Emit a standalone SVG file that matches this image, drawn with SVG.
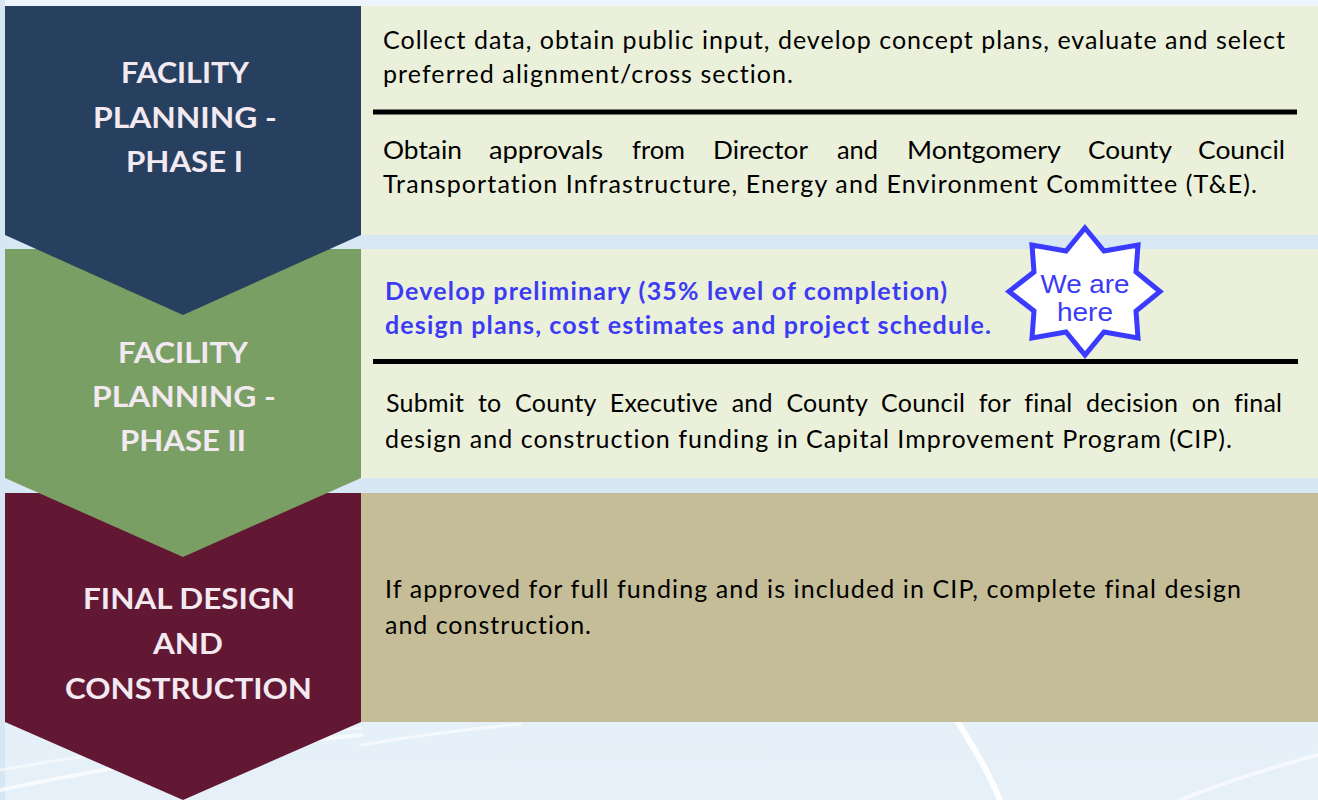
<svg xmlns="http://www.w3.org/2000/svg" width="1318" height="800" viewBox="0 0 1318 800">
  <defs>
    <linearGradient id="bg" x1="0" y1="0" x2="0" y2="1">
      <stop offset="0" stop-color="#EEF4FB"/>
      <stop offset="0.5" stop-color="#E2EDF7"/>
      <stop offset="1" stop-color="#E6F0F9"/>
    </linearGradient>
    <style>
      text { font-variant-ligatures: none; }
      .title { font-family: Lato, "Liberation Sans", sans-serif; font-weight: 700; font-size: 29px; fill: #F3E9F1; text-anchor: middle; }
      .body { font-family: Lato, "Liberation Sans", sans-serif; font-size: 25px; fill: #000000; }
      .blue { font-family: Lato, "Liberation Sans", sans-serif; font-weight: 700; font-size: 25px; fill: #3B3BF5; }
      .star { font-family: "Liberation Sans", Arial, sans-serif; font-size: 26px; fill: #3B3BF5; text-anchor: middle; }
      .rule { stroke: #000000; stroke-width: 5; }
      .panel-light { fill: #EBF0DA; }
      .panel-tan { fill: #C4BD97; }
      .curve { fill: none; stroke: #FFFFFF; stroke-linecap: round; }
    </style>
  </defs>

  <!-- background -->
  <g id="background">
    <rect x="0" y="0" width="1318" height="800" fill="url(#bg)"/>
    <rect x="0" y="235" width="1318" height="14" fill="#D3E5F3" opacity="0.8"/>
    <rect x="0" y="478" width="1318" height="15" fill="#D3E5F3" opacity="0.8"/>
    <rect x="0" y="0" width="5" height="800" fill="#D6E6F3"/>
    <path class="curve" d="M958 722 C 975 750, 990 775, 1000 800" stroke-width="6" opacity="0.9"/>
    <path class="curve" d="M0 790 C 120 765, 250 745, 361 735" stroke-width="4" opacity="0.7"/>
    <path class="curve" d="M0 770 C 100 752, 220 738, 361 728" stroke-width="3" opacity="0.5"/>
    <path class="curve" d="M1180 800 C 1230 780, 1280 765, 1318 755" stroke-width="4" opacity="0.6"/>
    <path class="curve" d="M361 745 C 420 735, 480 728, 520 724" stroke-width="3" opacity="0.6"/>
  </g>

  <!-- right-hand panels -->
  <g id="panel-phase1">
    <rect class="panel-light" x="361" y="6" width="957" height="229"/>
    <text class="body" x="383" y="49" textLength="902" lengthAdjust="spacing">Collect data, obtain public input, develop concept plans, evaluate and select</text>
    <text class="body" x="383" y="83" textLength="410" lengthAdjust="spacing">preferred alignment/cross section.</text>
    <line class="rule" x1="373" y1="112" x2="1297" y2="112"/>
    <g class="justified">
      <text class="body" x="383" y="159" textLength="79" lengthAdjust="spacingAndGlyphs">Obtain</text>
      <text class="body" x="489" y="159" textLength="114" lengthAdjust="spacingAndGlyphs">approvals</text>
      <text class="body" x="632" y="159" textLength="53" lengthAdjust="spacingAndGlyphs">from</text>
      <text class="body" x="713" y="159" textLength="95" lengthAdjust="spacingAndGlyphs">Director</text>
      <text class="body" x="837" y="159" textLength="41" lengthAdjust="spacingAndGlyphs">and</text>
      <text class="body" x="907" y="159" textLength="154" lengthAdjust="spacingAndGlyphs">Montgomery</text>
      <text class="body" x="1088" y="159" textLength="84" lengthAdjust="spacingAndGlyphs">County</text>
      <text class="body" x="1198" y="159" textLength="87" lengthAdjust="spacingAndGlyphs">Council</text>
    </g>
    <text class="body" x="383" y="193" textLength="874" lengthAdjust="spacing">Transportation Infrastructure, Energy and Environment Committee (T&amp;E).</text>
  </g>

  <g id="panel-phase2">
    <rect class="panel-light" x="361" y="249" width="957" height="229"/>
    <text class="blue" x="385" y="300" textLength="562" lengthAdjust="spacing">Develop preliminary (35% level of completion)</text>
    <text class="blue" x="385" y="334" textLength="606" lengthAdjust="spacing">design plans, cost estimates and project schedule.</text>
    <line class="rule" x1="373" y1="361.5" x2="1298" y2="361.5"/>
    <text class="body" x="386" y="412" style="word-spacing: 7px" textLength="896" lengthAdjust="spacing">Submit to County Executive and County Council for final decision on final</text>
    <text class="body" x="385" y="448" textLength="847" lengthAdjust="spacing">design and construction funding in Capital Improvement Program (CIP).</text>
  </g>

  <g id="we-are-here">
    <polygon points="1085,228 1104,251 1138,245 1136,272 1160,291.5 1136,311 1138,338 1104,332 1085,355 1066,332 1032,338 1034,311 1009,291.5 1034,272 1032,245 1066,251" fill="#FFFFFF" stroke="#3B3BFF" stroke-width="5" stroke-linejoin="miter"/>
    <text class="star" x="1085" y="293" textLength="89" lengthAdjust="spacingAndGlyphs">We are</text>
    <text class="star" x="1085" y="321" textLength="56" lengthAdjust="spacingAndGlyphs">here</text>
  </g>

  <g id="panel-final">
    <rect class="panel-tan" x="361" y="493" width="957" height="229"/>
    <text class="body" x="385" y="598" textLength="856" lengthAdjust="spacing">If approved for full funding and is included in CIP, complete final design</text>
    <text class="body" x="385" y="634" textLength="206" lengthAdjust="spacing">and construction.</text>
  </g>

  <!-- chevrons (drawn bottom-up so upper points overlap) -->
  <g id="chevron-final">
    <polygon points="5,493 361,493 361,722 183,800 5,722" fill="#621832"/>
    <text class="title" x="189" y="609" textLength="212" lengthAdjust="spacingAndGlyphs">FINAL DESIGN</text>
    <text class="title" x="188" y="654" textLength="70" lengthAdjust="spacingAndGlyphs">AND</text>
    <text class="title" x="188.5" y="699" textLength="247" lengthAdjust="spacingAndGlyphs">CONSTRUCTION</text>
  </g>

  <g id="chevron-phase2">
    <polygon points="5,249 361,249 361,478 183,557 5,478" fill="#7A9F64"/>
    <text class="title" x="183" y="363" textLength="130" lengthAdjust="spacingAndGlyphs">FACILITY</text>
    <text class="title" x="184" y="407" textLength="184" lengthAdjust="spacingAndGlyphs">PLANNING -</text>
    <text class="title" x="183" y="451" textLength="126" lengthAdjust="spacingAndGlyphs">PHASE II</text>
  </g>

  <g id="chevron-phase1">
    <polygon points="5,6 361,6 361,235 183,315 5,235" fill="#27405F"/>
    <text class="title" x="185" y="83" textLength="128" lengthAdjust="spacingAndGlyphs">FACILITY</text>
    <text class="title" x="185" y="128" textLength="184" lengthAdjust="spacingAndGlyphs">PLANNING -</text>
    <text class="title" x="184.5" y="172" textLength="117" lengthAdjust="spacingAndGlyphs">PHASE I</text>
  </g>

  <g id="connectors"></g>
</svg>
